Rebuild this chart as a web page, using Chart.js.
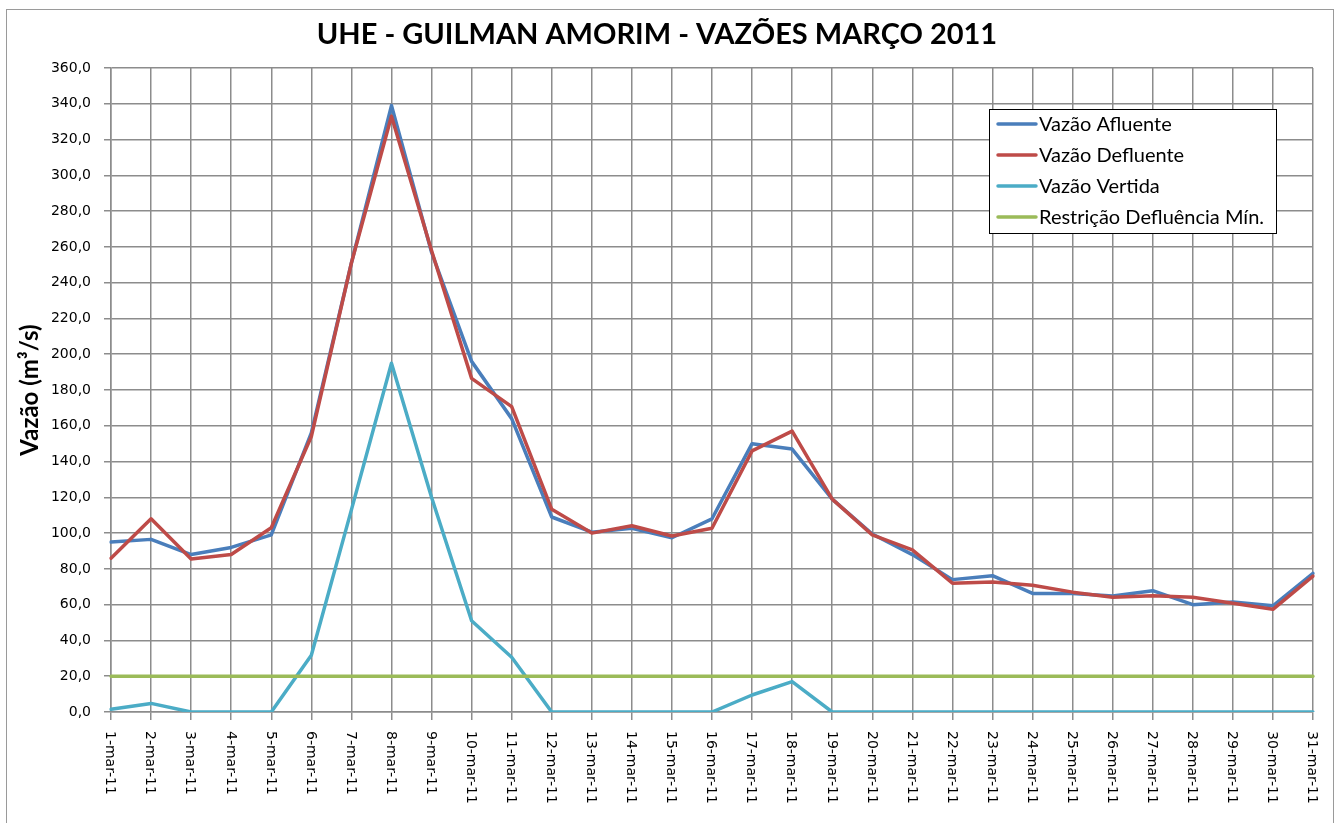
<!DOCTYPE html>
<html>
<head>
<meta charset="utf-8">
<script src="https://cdn.jsdelivr.net/npm/chart.js@4/dist/chart.umd.min.js"></script>
<style>
  html, body { margin: 0; padding: 0; background: #ffffff; }
  #wrap { position: relative; width: 1338px; height: 823px; }
  canvas { display: block; }
</style>
</head>
<body>
<div id="wrap"><canvas id="c" width="1338" height="823"></canvas></div>
<script>
const chartTitle = 'UHE - GUILMAN AMORIM - VAZÕES MARÇO 2011';
const yAxisTitle = 'Vazão (m³/s)';
const categories = ['1-mar-11','2-mar-11','3-mar-11','4-mar-11','5-mar-11','6-mar-11','7-mar-11','8-mar-11','9-mar-11','10-mar-11','11-mar-11','12-mar-11','13-mar-11','14-mar-11','15-mar-11','16-mar-11','17-mar-11','18-mar-11','19-mar-11','20-mar-11','21-mar-11','22-mar-11','23-mar-11','24-mar-11','25-mar-11','26-mar-11','27-mar-11','28-mar-11','29-mar-11','30-mar-11','31-mar-11'];
const seriesNames = ['Vazão Afluente','Vazão Defluente','Vazão Vertida','Restrição Defluência Mín.'];
const afluente  = [95, 96.5, 88, 92, 99, 156, 251, 339, 257, 196, 164, 109, 100.5, 102.7, 97.4, 108, 150, 147, 119, 99.5, 88, 74, 76.2, 66.3, 66.3, 64.8, 67.8, 60, 61.5, 59.4, 77.5];
const defluente = [86, 108, 85.5, 88, 103, 154, 251, 333, 258, 186.5, 170.7, 113.3, 100, 104.1, 98.4, 102.7, 146, 157, 119, 99, 90.6, 72, 72.7, 70.8, 67, 64.1, 65, 64.1, 60.8, 57.4, 76];
const vertida   = [1.5, 4.8, 0, 0, 0, 31.7, 113, 195, 120, 51, 30.6, 0, 0, 0, 0, 0, 9.5, 17, 0, 0, 0, 0, 0, 0, 0, 0, 0, 0, 0, 0, 0];
const restricao = [20, 20, 20, 20, 20, 20, 20, 20, 20, 20, 20, 20, 20, 20, 20, 20, 20, 20, 20, 20, 20, 20, 20, 20, 20, 20, 20, 20, 20, 20, 20];
const yMin = 0, yMax = 360, yStep = 20;

const colors = ['#4a7ebb', '#be4b48', '#4bacc6', '#9bbb59'];
const gridColor = '#8c8c8c';

const decorPlugin = {
  id: 'decor',
  beforeDraw(chart) {
    const ctx = chart.ctx;
    ctx.save();
    ctx.fillStyle = '#ffffff';
    ctx.fillRect(0, 0, chart.width, chart.height);
    ctx.strokeStyle = '#9a9a9a';
    ctx.lineWidth = 1;
    ctx.strokeRect(6.5, 9.5, 1327, 900);
    ctx.restore();
  },
  afterDraw(chart) {
    const ctx = chart.ctx;
    const xs = chart.scales.x;
    const area = chart.chartArea;
    ctx.save();
    // title
    ctx.fillStyle = '#000000';
    ctx.font = 'bold 29px Lato';
    ctx.textAlign = 'center';
    ctx.textBaseline = 'middle';
    ctx.fillText(chartTitle, 657, 35);
    // x labels rotated clockwise
    ctx.font = '14px "DejaVu Sans"';
    ctx.textAlign = 'left';
    ctx.textBaseline = 'middle';
    categories.forEach((lab, i) => {
      const x = xs.getPixelForValue(i);
      ctx.save();
      ctx.translate(x - 1, area.bottom + 19);
      ctx.rotate(Math.PI / 2);
      ctx.fillText(lab, 0, 0);
      ctx.restore();
    });
    // legend
    const lx = 989, ly = 109, lw = 287, lh = 124;
    ctx.fillStyle = '#ffffff';
    ctx.fillRect(lx, ly, lw, lh);
    ctx.strokeStyle = '#000000';
    ctx.lineWidth = 1;
    ctx.strokeRect(lx + 0.5, ly + 0.5, lw, lh);
    ctx.font = '20px Lato';
    ctx.textAlign = 'left';
    ctx.textBaseline = 'middle';
    seriesNames.forEach((name, i) => {
      const y = ly + 15 + i * 31;
      ctx.strokeStyle = colors[i];
      ctx.lineWidth = 3.5;
      ctx.lineCap = 'round';
      ctx.beginPath();
      ctx.moveTo(998, y);
      ctx.lineTo(1036, y);
      ctx.stroke();
      ctx.fillStyle = '#000000';
      ctx.fillText(name, 1039, y + 1);
    });
    ctx.restore();
  }
};

const mk = (label, data, color, order) => ({
  label, data, borderColor: color, backgroundColor: color,
  borderWidth: 3.5, pointRadius: 0, pointHoverRadius: 0, tension: 0,
  fill: false, order, borderJoinStyle: 'round', borderCapStyle: 'round'
});

new Chart(document.getElementById('c'), {
  type: 'line',
  data: {
    labels: categories,
    datasets: [
      mk(seriesNames[0], afluente, colors[0], 4),
      mk(seriesNames[1], defluente, colors[1], 3),
      mk(seriesNames[2], vertida, colors[2], 2),
      mk(seriesNames[3], restricao, colors[3], 1)
    ]
  },
  options: {
    responsive: false,
    animation: false,
    devicePixelRatio: 1,
    layout: { padding: { top: 68, right: 25, left: 0, bottom: 0 } },
    plugins: {
      legend: { display: false },
      title: { display: false },
      tooltip: { enabled: false }
    },
    scales: {
      x: {
        offset: false,
        grid: { color: gridColor, lineWidth: 1.5, drawTicks: true, tickLength: 8, tickColor: gridColor },
        border: { color: gridColor, width: 1.5 },
        ticks: { display: false },
        afterFit(scale) { scale.height = 111; }
      },
      y: {
        min: yMin, max: yMax,
        grid: { color: gridColor, lineWidth: 1.5, drawTicks: true, tickLength: 7, tickColor: gridColor },
        border: { color: gridColor, width: 1.5 },
        ticks: {
          stepSize: yStep, padding: 13, color: '#000000',
          font: { family: 'DejaVu Sans', size: 14 },
          callback: v => v.toFixed(1).replace('.', ',')
        },
        title: {
          display: true, text: yAxisTitle, color: '#000000',
          font: { family: 'Lato', size: 24, weight: 'bold' },
          padding: { top: 16, bottom: 0 }
        },
        afterFit(scale) { scale.width = 111; }
      }
    }
  },
  plugins: [decorPlugin]
});
</script>
</body>
</html>
